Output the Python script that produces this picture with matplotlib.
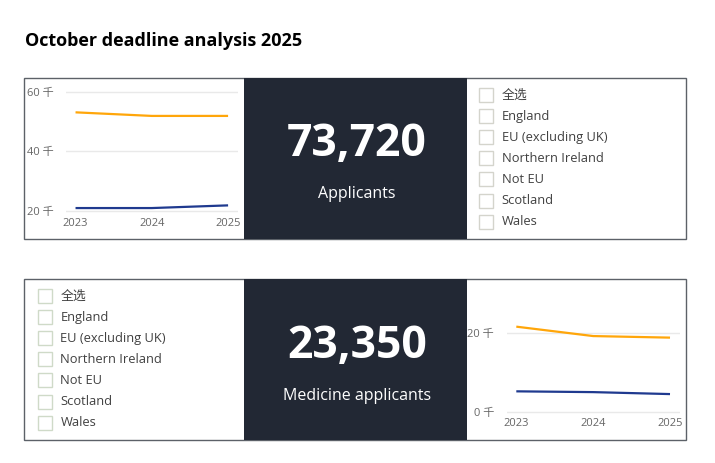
import matplotlib
matplotlib.use('Agg')
import matplotlib.pyplot as plt
from matplotlib.patches import Rectangle
from matplotlib.ticker import FuncFormatter

plt.rcParams['font.family'] = ['Open Sans', 'Noto Sans CJK SC', 'DejaVu Sans']

# data
years = [2023, 2024, 2025]
applicants_orange = [53.1, 51.9, 51.9]   # thousands
applicants_blue = [21.0, 21.0, 21.9]
medicine_orange = [21.7, 19.3, 18.9]
medicine_blue = [5.2, 5.0, 4.5]
applicants_total = '73,720'
medicine_total = '23,350'
slicer_items = ['全选', 'England', 'EU (excluding UK)', 'Northern Ireland',
                'Not EU', 'Scotland', 'Wales']
title = 'October deadline analysis 2025'

W, H = 715, 463
ORANGE = '#FFA60A'
BLUE = '#1F3A8F'
DARK = '#222834'
BORDER = '#5C6168'


def px(x0, y0, x1, y1):
    return [x0 / W, 1 - y1 / H, (x1 - x0) / W, (y1 - y0) / H]


fig = plt.figure(figsize=(W / 100, H / 100), dpi=100)
fig.patch.set_facecolor('white')

# overlay for boxes and texts
bg = fig.add_axes([0, 0, 1, 1])
bg.set_xlim(0, W)
bg.set_ylim(H, 0)
bg.axis('off')

bg.text(25, 41, title, fontsize=13, fontweight='bold', color='black',
        va='center', ha='left')

for top in (77, 278):
    bg.add_patch(Rectangle((23.5, top + 0.5), 662, 161, fill=False,
                           edgecolor=BORDER, linewidth=1))
    bg.add_patch(Rectangle((244, top + 0.5), 223, 161, facecolor=DARK,
                           edgecolor='none'))

# cards
bg.text(357, 145, applicants_total, fontsize=32, fontweight='bold',
        color='white', ha='center', va='center')
bg.text(357, 194, 'Applicants', fontsize=11.5, color='white',
        ha='center', va='center')
bg.text(357, 346, medicine_total, fontsize=32, fontweight='bold',
        color='white', ha='center', va='center')
bg.text(357, 396, 'Medicine applicants', fontsize=11.5, color='white',
        ha='center', va='center')


def slicer(box_x, text_x, y0, edge):
    for i, item in enumerate(slicer_items):
        yc = y0 + i * 21.1
        bg.add_patch(Rectangle((box_x, yc - 7), 14, 14, fill=False,
                               edgecolor=edge, linewidth=1))
        bg.text(text_x, yc, item, fontsize=9.3, color='#404040',
                ha='left', va='center')


slicer(478.5, 501.5, 95, '#d4d4cc')
slicer(37.5, 60.5, 296, '#cfdac8')


def line_chart(rect, ylim, yticks, orange, blue):
    ax = fig.add_axes(px(*rect))
    ax.plot(years, orange, color=ORANGE, linewidth=1.6, solid_capstyle='butt')
    ax.plot(years, blue, color=BLUE, linewidth=1.6, solid_capstyle='butt')
    ax.set_xlim(2022.875, 2025.13)
    ax.set_ylim(*ylim)
    ax.set_xticks(years)
    ax.set_yticks(yticks)
    ax.yaxis.set_major_formatter(FuncFormatter(lambda v, p: f'{v:.0f} 千'))
    ax.grid(axis='y', color='#e9e9e9', linewidth=1)
    ax.set_axisbelow(True)
    for s in ax.spines.values():
        s.set_visible(False)
    ax.tick_params(length=0, labelsize=8, labelcolor='#666666')
    ax.tick_params(axis='x', pad=0.5)
    ax.tick_params(axis='y', pad=9)
    ax.patch.set_alpha(0)
    return ax


line_chart((66, 85.8, 238, 217), (18, 62), [20, 40, 60],
           applicants_orange, applicants_blue)
line_chart((506.7, 309.8, 680, 417.6), (-1.5, 26), [0, 20],
           medicine_orange, medicine_blue)

fig.savefig('out.png', dpi=100)
